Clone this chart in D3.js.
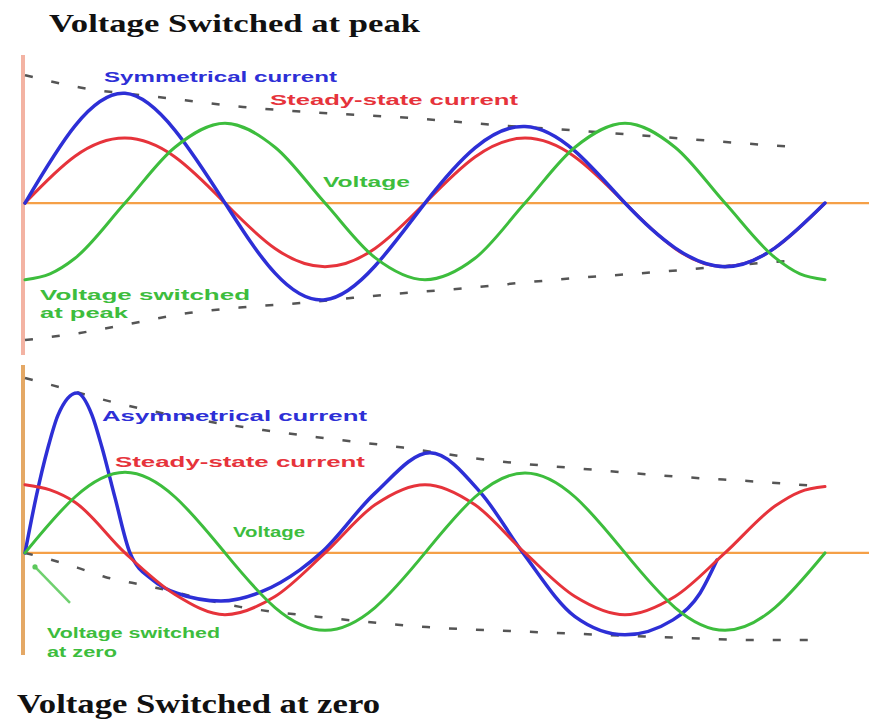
<!DOCTYPE html>
<html><head><meta charset="utf-8">
<script src="https://cdn.jsdelivr.net/npm/d3@7/dist/d3.min.js"></script>
<style>body{margin:0;background:#fff}svg{display:block}</style>
</head><body>
<svg id="chart" width="869" height="722"></svg>
<script>
// ---------- DATA (time in cycles, values in units of steady-state current amplitude) ----------
const titles = ["Voltage Switched at peak", "Voltage Switched at zero"];

const tGrid = [0, 0.125, 0.25, 0.375, 0.5, 0.625, 0.75, 0.875, 1, 1.125, 1.25, 1.375, 1.5, 1.625, 1.75, 1.875, 2];
const tGridEnds = [0, 0.0625, 0.125, 0.25, 0.375, 0.5, 0.625, 0.75, 0.875, 1, 1.125, 1.25, 1.375, 1.5, 1.625, 1.75, 1.875, 1.9375, 2];

// Top panel: voltage switched at peak
const symCurrent   = [0, 1.19, 1.69, 1.12, 0, -1.08, -1.49, -0.97, 0, 0.85, 1.18, 0.80, 0, -0.69, -0.98, -0.69, 0];
const steadyTop    = [0, 0.72, 1.00, 0.71, 0, -0.70, -0.98, -0.70, 0, 0.71, 1.00, 0.71, 0, -0.70, -0.98, -0.69, 0];
const voltageTop   = [-1.18, -1.09, -0.85, 0, 0.86, 1.23, 0.86, 0, -0.84, -1.18, -0.85, 0, 0.86, 1.23, 0.86, 0, -0.84, -1.09, -1.18];

const envTopUpperT = [0, 0.1375, 0.3375, 0.545, 0.7125, 0.9625, 1.18, 1.395, 1.5875, 1.795, 1.9375];
const envTopUpperV = [1.97, 1.78, 1.63, 1.48, 1.40, 1.31, 1.20, 1.11, 1.02, 0.92, 0.86];
const envTopLowerT = [0, 0.1375, 0.27, 0.4125, 0.555, 0.6875, 0.82, 0.9625, 1.105, 1.2375, 1.3875, 1.52, 1.6625, 1.805, 1.9375];
const envTopLowerV = [-2.11, -2.0, -1.85, -1.69, -1.60, -1.54, -1.46, -1.38, -1.31, -1.23, -1.15, -1.09, -1.02, -0.94, -0.88];

// Bottom panel: voltage switched at zero
const asymT       = [0, 0.0275, 0.0575, 0.0825, 0.13, 0.1675, 0.1925, 0.225, 0.2625, 0.32, 0.38, 0.49, 0.59, 0.6875, 0.74, 0.875, 1.0125, 1.14, 1.245, 1.375, 1.5, 1.62, 1.6875, 1.73];
const asymCurrent = [0, 0.85, 1.62, 2.12, 2.46, 2.12, 1.62, 0.85, 0, -0.42, -0.62, -0.74, -0.60, -0.26, 0, 0.92, 1.54, 0.92, 0, -0.98, -1.26, -1.03, -0.62, -0.11];
const steadyBot   = [1.05, 0.97, 0.78, 0, -0.64, -0.95, -0.67, 0, 0.74, 1.05, 0.74, 0, -0.67, -0.95, -0.67, 0, 0.72, 0.94, 1.02];
const voltageBot  = [0, 0.86, 1.24, 0.86, 0, -0.84, -1.19, -0.84, 0, 0.86, 1.23, 0.86, 0, -0.84, -1.19, -0.84, 0];

const envBotUpperT = [0, 0.0675, 0.2, 0.595, 0.73, 0.945, 1.155, 1.42, 1.6375, 1.845, 1.995];
const envBotUpperV = [2.69, 2.58, 2.35, 1.89, 1.78, 1.62, 1.43, 1.28, 1.17, 1.09, 1.02];
const envBotLowerT = [0, 0.0675, 0.1325, 0.2, 0.2675, 0.33, 0.5375, 0.73, 1.005, 1.2875, 1.57, 1.845, 1.9875];
const envBotLowerV = [0, -0.11, -0.23, -0.37, -0.46, -0.54, -0.83, -0.98, -1.14, -1.22, -1.29, -1.34, -1.34];

const arrowT = [0.1125, 0.025];
const arrowV = [-0.77, -0.215];

// ---------- DRAWING ----------
const svg = d3.select("#chart");
const C = { blue: "#2d2fd6", red: "#e6333b", green: "#3dbd3d", orange: "#f5a047", dash: "#555" };

const x = d3.scaleLinear().domain([0, 2]).range([25, 825]);
const yTop = d3.scaleLinear().domain([-2.34, 2.28]).range([355, 55]);
const yBot = d3.scaleLinear().domain([-1.57, 2.89]).range([655, 365]);

const zip = (ts, vs) => ts.map((t, i) => [t, vs[i]]);

function drawPanel(y, axisColor, axisWidth) {
  const g = svg.append("g");
  const [d0, d1] = y.domain();
  g.append("line").attr("x1", x(0) - 2).attr("x2", x(0) - 2)
    .attr("y1", y(d1)).attr("y2", y(d0))
    .attr("stroke", axisColor).attr("stroke-width", axisWidth);
  g.append("line").attr("x1", x(0) - 2).attr("x2", 869)
    .attr("y1", y(0)).attr("y2", y(0))
    .attr("stroke", C.orange).attr("stroke-width", 2.2);
  return g;
}

function curve(g, y, pts, color, width, curveType, dash) {
  const line = d3.line().x(d => x(d[0])).y(d => y(d[1])).curve(curveType || d3.curveNatural);
  const p = g.append("path").datum(pts).attr("d", line)
    .attr("fill", "none").attr("stroke", color).attr("stroke-width", width)
    .attr("stroke-linecap", "round").attr("stroke-linejoin", "round");
  if (dash) p.attr("stroke-dasharray", dash).attr("stroke-linecap", "butt");
  return p;
}

function label(text, xx, yy, color, size, len) {
  svg.append("text").attr("x", xx).attr("y", yy).text(text)
    .attr("fill", color).attr("font-family", "Liberation Sans, Arial, sans-serif")
    .attr("font-weight", "bold").attr("font-size", size)
    .attr("textLength", len).attr("lengthAdjust", "spacingAndGlyphs");
}

// Titles
svg.append("text").attr("x", 49).attr("y", 32).text(titles[0])
  .attr("font-family", "Liberation Serif, Times New Roman, serif").attr("font-weight", "bold")
  .attr("font-size", 25).attr("fill", "#111").attr("textLength", 371).attr("lengthAdjust", "spacingAndGlyphs");
svg.append("text").attr("x", 17).attr("y", 713).text(titles[1])
  .attr("font-family", "Liberation Serif, Times New Roman, serif").attr("font-weight", "bold")
  .attr("font-size", 27).attr("fill", "#111").attr("textLength", 363).attr("lengthAdjust", "spacingAndGlyphs");

// Top panel
const gT = drawPanel(yTop, "#f3b3a3", 4);
const envCurve = d3.curveMonotoneX;
curve(gT, yTop, zip(envTopUpperT, envTopUpperV), C.dash, 2.5, envCurve, "8,19");
curve(gT, yTop, zip(envTopLowerT, envTopLowerV), C.dash, 2.5, envCurve, "8,19");
curve(gT, yTop, zip(tGrid, steadyTop), C.red, 3);
curve(gT, yTop, zip(tGrid, symCurrent), C.blue, 3.5);
curve(gT, yTop, zip(tGridEnds, voltageTop), C.green, 3, d3.curveMonotoneX);

label("Symmetrical current", 104, 82, C.blue, 15, 233);
label("Steady-state current", 270, 105, C.red, 15, 248);
label("Voltage", 323, 187, C.green, 15, 87);
label("Voltage switched", 40, 300, C.green, 15, 210);
label("at peak", 40, 318, C.green, 15, 88);

// Bottom panel
const gB = drawPanel(yBot, "#e4a865", 4);
curve(gB, yBot, zip(envBotUpperT, envBotUpperV), C.dash, 2.5, envCurve, "8,19");
curve(gB, yBot, zip(envBotLowerT, envBotLowerV), C.dash, 2.5, envCurve, "8,19");
curve(gB, yBot, zip(asymT, asymCurrent), C.blue, 3.5, d3.curveMonotoneX);
curve(gB, yBot, zip(tGridEnds, steadyBot), C.red, 3, d3.curveMonotoneX);
curve(gB, yBot, zip(tGrid, voltageBot), C.green, 3);

// arrow pointing at the switching instant
const a = zip(arrowT, arrowV);
gB.append("line").attr("x1", x(a[0][0])).attr("y1", yBot(a[0][1]))
  .attr("x2", x(a[1][0])).attr("y2", yBot(a[1][1]))
  .attr("stroke", "#6fd06f").attr("stroke-width", 2.5);
gB.append("circle").attr("cx", x(a[1][0])).attr("cy", yBot(a[1][1])).attr("r", 2.6).attr("fill", "#5cc85c");

label("Asymmetrical current", 102, 421, C.blue, 15, 265);
label("Steady-state current", 115, 467, C.red, 15, 250);
label("Voltage", 233, 537, C.green, 14, 72);
label("Voltage switched", 47, 638, C.green, 14, 173);
label("at zero", 47, 657, C.green, 14, 70);
</script>
</body></html>
